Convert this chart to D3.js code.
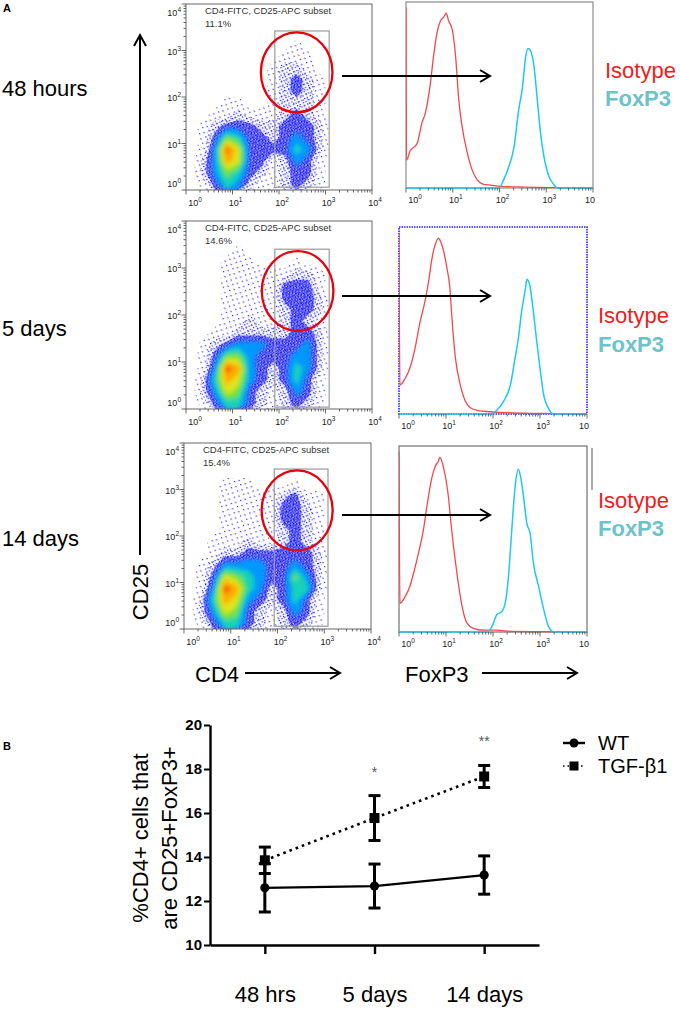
<!DOCTYPE html>
<html><head><meta charset="utf-8">
<script src="https://cdn.jsdelivr.net/npm/d3@7"></script>
<style>body{margin:0;background:#fff}svg{display:block}</style>
</head><body>
<svg id="c" width="680" height="1009"></svg>
<script>
// ---------------- DATA ----------------
const timepoints = ["48 hours", "5 days", "14 days"];
const subsetPct = ["11.1%", "14.6%", "15.4%"];
// density level (0-9) per 1/4-decade cell, CD4 log x (columns 0..4), CD25 log y (rows top=4 .. bottom=0)
const density48h = [
  "0000000000000000","0000000000000000","0000000000000000","0000000001000000",
  "0000000011100000","0000000122100000","0000000123210000","0000000123210000",
  "0001100122210000","0011211123210000","0123332233320000","0136533234320000",
  "0149733335420000","0248733124310000","0246532123310000","0135421123210000"];
const density5d = [
  "0000000000000000","0000000000000000","0000100000000000","0001110001000000",
  "0001111112210000","0001111133310000","0001111133320000","0001111123320000",
  "0001121123210000","0011222223320000","0123444333420000","0136643334420000",
  "0149843235420000","0258743235310000","0247632124310000","0135532123210000"];
const density14d = [
  "0000000000000000","0000000000000000","0000000000000000","0001110001000000",
  "0001111123110000","0001111133210000","0001111133210000","0001111123210000",
  "0011121123210000","0012233333320000","0124444334320000","0137654336420000",
  "0149854235520000","0258743235310000","0247632124310000","0135532123210000"];
// gate rectangle [x0,x1,y0,y1] and circle [cx,cy,rx,ry] in log10 units
const gates = [[1.91,3.08,0.06,3.42],[1.91,3.08,0.04,3.40],[1.93,3.08,0.06,3.44]];
const circles = [[2.38,2.53,0.77,0.86],[2.40,2.51,0.77,0.85],[2.42,2.55,0.76,0.86]];
// histograms: [log10 FoxP3, % of max]
const isotype48h = [[0,97],[0.01,15],[0.09,20],[0.24,24],[0.34,35],[0.41,40],[0.52,56],[0.59,71],[0.66,83],[0.74,90],[0.81,92],[0.86,94],[0.91,90],[0.99,85],[1.06,71],[1.13,47],[1.2,33],[1.31,19],[1.41,10],[1.52,4.5],[1.66,2],[1.81,1.6],[2.02,0.9],[2.52,0.5],[3.24,0.2],[4,0]];
const foxp348h = [[0,0],[1.99,0],[2.09,4.5],[2.2,11.6],[2.31,22],[2.41,42],[2.49,54],[2.56,70.5],[2.61,75],[2.66,74],[2.74,65],[2.81,47],[2.88,29],[2.95,17],[3.06,6],[3.16,2],[3.24,0],[4,0]];
const isotype5d = [[0,97],[0.02,15.5],[0.13,19],[0.23,24.5],[0.34,35],[0.45,49.5],[0.55,60],[0.63,71],[0.7,83],[0.77,90.5],[0.84,94],[0.87,93],[0.94,88],[1.02,78],[1.08,68],[1.13,50],[1.2,30],[1.3,16],[1.41,7],[1.51,3.5],[1.66,2],[1.94,1.2],[2.3,0.7],[3.0,0.3],[4,0]];
const foxp35d = [[0,0],[1.94,0],[2.08,2],[2.22,6.6],[2.37,15.5],[2.47,30],[2.54,40.5],[2.61,55],[2.69,67],[2.72,72],[2.78,69],[2.85,56.6],[2.93,38.8],[3.0,24.5],[3.08,10],[3.18,3],[3.29,0],[4,0]];
const isotype14d = [[0,97],[0.02,15.5],[0.13,19],[0.23,24.5],[0.31,31.6],[0.41,42],[0.52,55],[0.59,67],[0.7,83],[0.77,89],[0.84,92],[0.87,94],[0.94,89],[1.05,73],[1.12,55],[1.23,32],[1.34,14],[1.44,5],[1.58,2],[1.8,1],[2.08,1],[2.3,0.5],[3.0,0.2],[4,0]];
const foxp314d = [[0,0],[1.87,0],[1.98,3],[2.08,9.3],[2.19,11],[2.26,15.5],[2.33,30],[2.4,55],[2.47,78],[2.54,87.5],[2.59,83],[2.65,72.7],[2.72,58.4],[2.79,53],[2.86,37],[2.97,24.5],[3.08,12],[3.18,3],[3.29,0],[4,0]];
// panel B
const categories = ["48 hrs", "5 days", "14 days"];
const wtMean = [12.6, 12.68, 13.18];
const wtSem = [1.1, 1.0, 0.87];
const tgfMean = [13.85, 15.77, 17.66];
const tgfSem = [0.6, 1.02, 0.5];
const significance = ["", "*", "**"];
const yTicks = [10, 12, 14, 16, 18, 20];
const seriesNames = ["WT", "TGF-\u03b21"];

// ---------------- DRAW ----------------
const FONT = "Arial, 'Liberation Sans', Helvetica, sans-serif";
const svg = d3.select("#c").attr("font-family", FONT);
const defs = svg.append("defs");
function speckle(id, size, dots, color, rot){
  const p = defs.append("pattern").attr("id", id).attr("width", size).attr("height", size)
    .attr("patternUnits", "userSpaceOnUse").attr("patternTransform", `rotate(${rot})`);
  dots.forEach(d => p.append("rect").attr("x", d[0]).attr("y", d[1]).attr("width", d[2]).attr("height", d[2]).attr("fill", color));
}
speckle("sp1", 7, [[0,0,1.2],[3.5,4,1.2]], "#1a1aff", 27);
speckle("sp2", 4.5, [[0,0,1.2],[2.2,2.6,1.2]], "#1414ff", 17);
speckle("sp3", 3, [[0,0,1.4],[1.5,1.5,1.4],[0,1.6,0.9]], "#0c0cf0", 8);
defs.append("filter").attr("id","blur").attr("x","-10%").attr("y","-10%").attr("width","120%").attr("height","120%")
  .append("feGaussianBlur").attr("stdDeviation",2.2);

const levelFill = ["none","url(#sp1)","url(#sp2)","url(#sp3)","#0098ff","#18d2b8","#72e23a","#e0e41a","#ffac00","#ff3a00"];

const rows = [
  {dot:{x:186,y:4,w:186,h:186}, hist:{x:406,y:2,w:187,h:186,frame:"#777",dash:null}, ay:76, legX:605, isoY:78, foxY:106, labY:96,
   grid:density48h, iso:isotype48h, fox:foxp348h},
  {dot:{x:186,y:221,w:186,h:188}, hist:{x:399,y:227,w:188,h:187,frame:"#2222ff",dash:"1.5,1"}, ay:296, legX:598, isoY:323, foxY:352, labY:336,
   grid:density5d, iso:isotype5d, fox:foxp35d},
  {dot:{x:184,y:443,w:187,h:186}, hist:{x:399,y:446,w:188,h:186,frame:"#555",dash:null}, ay:515, legX:598, isoY:508, foxY:536, labY:546,
   grid:density14d, iso:isotype14d, fox:foxp314d}
];

const logTicks = d3.scaleLog().domain([1, 1e4]).ticks();
function isMajor(t){ const L = Math.log10(t); return Math.abs(L - Math.round(L)) < 1e-9; }
function tenPow(text, e, small){
  text.text("10");
  if (e !== null) text.append("tspan").attr("dy", -4).attr("font-size", small).text(e);
}

rows.forEach((row, k) => {
  const g = svg.append("g");
  // ---- dot plot
  const r = row.dot;
  const xs = d3.scaleLinear().domain([0,4]).range([r.x, r.x + r.w]);
  const ys = d3.scaleLinear().domain([0,4]).range([r.y + r.h, r.y]);
  const cid = "clipd" + k;
  defs.append("clipPath").attr("id", cid).append("rect").attr("x", r.x).attr("y", r.y).attr("width", r.w).attr("height", r.h);
  const n = row.grid.length;
  const values = row.grid.flatMap(s => s.split("").map(Number));
  const cont = d3.contours().size([n, n]).thresholds(d3.range(0.5, 9.5, 1))(values);
  const proj = d3.geoTransform({point(x, y){ this.stream.point(xs(x * 4 / n), ys(4 - y * 4 / n)); }});
  const path = d3.geoPath(proj);
  const cg = g.append("g").attr("clip-path", `url(#${cid})`);
  // soft blue underlay for the dense-blue band
  cg.append("path").datum(cont[2]).attr("d", path).attr("fill", "#4a4aff").attr("opacity", 0.3).attr("filter", "url(#blur)");
  cg.append("g").selectAll("path").data(cont.slice(0, 3)).join("path")
    .attr("d", path).attr("fill", (d, i) => levelFill[i + 1]);
  cg.append("g").attr("filter", "url(#blur)").selectAll("path").data(cont.slice(3)).join("path")
    .attr("d", path).attr("fill", (d, i) => levelFill[i + 4]);
  // frame
  g.append("rect").attr("x", r.x).attr("y", r.y).attr("width", r.w).attr("height", r.h)
    .attr("fill", "none").attr("stroke", "#666").attr("stroke-width", 1);
  // ticks
  logTicks.forEach(t => {
    const L = Math.log10(t), len = isMajor(t) ? 4.5 : 2.5;
    g.append("line").attr("x1", xs(L)).attr("x2", xs(L)).attr("y1", r.y + r.h).attr("y2", r.y + r.h + len).attr("stroke", "#444").attr("stroke-width", 0.8);
    g.append("line").attr("x1", r.x).attr("x2", r.x - len).attr("y1", ys(L)).attr("y2", ys(L)).attr("stroke", "#444").attr("stroke-width", 0.8);
  });
  d3.range(0, 5).forEach(d => {
    g.append("text").attr("x", xs(d) + (d === 0 ? 9 : 3)).attr("y", r.y + r.h + 16).attr("text-anchor", "middle")
      .attr("font-size", 9).attr("fill", "#222").call(tenPow, String(d), 6.5);
    const by = d === 0 ? ys(0) - 3 : (d === 4 ? ys(4) + 12 : ys(d) + 4);
    g.append("text").attr("x", r.x - 5).attr("y", by).attr("text-anchor", "end")
      .attr("font-size", 9).attr("fill", "#222").call(tenPow, String(d), 6.5);
  });
  g.append("text").attr("x", r.x + 19).attr("y", r.y + 10).attr("font-size", 9.5).attr("fill", "#333").text("CD4-FITC, CD25-APC subset");
  g.append("text").attr("x", r.x + 19).attr("y", r.y + 23).attr("font-size", 9.5).attr("fill", "#333").text(subsetPct[k]);
  // gate & circle
  const gt = gates[k];
  g.append("rect").attr("x", xs(gt[0])).attr("y", ys(gt[3])).attr("width", xs(gt[1]) - xs(gt[0])).attr("height", ys(gt[2]) - ys(gt[3]))
    .attr("fill", "none").attr("stroke", "#9a9a9a").attr("stroke-width", 1.2);
  const c = circles[k];
  g.append("ellipse").attr("cx", xs(c[0])).attr("cy", ys(c[1])).attr("rx", xs(c[2]) - xs(0)).attr("ry", ys(0) - ys(c[3]))
    .attr("fill", "none").attr("stroke", "#e8000b").attr("stroke-width", 2.3);

  // ---- histogram
  const h = row.hist;
  const hx = d3.scaleLinear().domain([0,4]).range([h.x, h.x + h.w]);
  const hy = d3.scaleLinear().domain([0,100]).range([h.y + h.h, h.y]);
  const hid = "cliph" + k;
  defs.append("clipPath").attr("id", hid).append("rect").attr("x", h.x).attr("y", h.y - 1).attr("width", h.w).attr("height", h.h + 2);
  const fr = g.append("rect").attr("x", h.x).attr("y", h.y).attr("width", h.w).attr("height", h.h)
    .attr("fill", "none").attr("stroke", h.frame).attr("stroke-width", h.dash ? 1.6 : 1);
  if (h.dash) fr.attr("stroke-dasharray", h.dash);
  const line = d3.line().x(d => hx(d[0])).y(d => hy(d[1])).curve(d3.curveMonotoneX);
  const hg = g.append("g").attr("clip-path", `url(#${hid})`);
  hg.append("path").attr("d", line(row.iso)).attr("fill", "none").attr("stroke", "#f2484c").attr("stroke-width", 1.3);
  hg.append("path").attr("d", line(row.fox)).attr("fill", "none").attr("stroke", "#1ec8f0").attr("stroke-width", 1.5);
  logTicks.forEach(t => {
    const L = Math.log10(t), len = isMajor(t) ? 4.5 : 2.5;
    g.append("line").attr("x1", hx(L)).attr("x2", hx(L)).attr("y1", h.y + h.h).attr("y2", h.y + h.h + len).attr("stroke", "#444").attr("stroke-width", 0.8);
  });
  d3.range(0, 5).forEach(d => {
    g.append("text").attr("x", hx(d) + (d === 0 ? 9 : (d === 4 ? -3 : 3))).attr("y", h.y + h.h + 15).attr("text-anchor", "middle")
      .attr("font-size", 9).attr("fill", "#222").call(tenPow, d === 4 ? null : String(d), 6.5);
  });
  if (k === 2) g.append("line").attr("x1", 592).attr("x2", 592).attr("y1", 448).attr("y2", 490).attr("stroke", "#555").attr("stroke-width", 1);

  // ---- arrow between
  g.append("line").attr("x1", 342).attr("x2", 490).attr("y1", row.ay).attr("y2", row.ay).attr("stroke", "#000").attr("stroke-width", 2);
  g.append("path").attr("d", `M${480},${row.ay - 6}L${490},${row.ay}L${480},${row.ay + 6}`).attr("fill", "none").attr("stroke", "#000").attr("stroke-width", 2);
  // ---- legend
  g.append("text").attr("x", row.legX).attr("y", row.isoY).attr("font-size", 22).attr("fill", "#ee1c1c").text("Isotype");
  g.append("text").attr("x", row.legX).attr("y", row.foxY).attr("font-size", 22).attr("font-weight", "bold").attr("fill", "#6cc3c9").text("FoxP3");
  // ---- row label
  g.append("text").attr("x", 2).attr("y", row.labY).attr("font-size", 22).attr("fill", "#000").text(timepoints[k]);
});

// panel labels & axis names
svg.append("text").attr("x", 3).attr("y", 12).attr("font-size", 11).attr("font-weight", "bold").text("A");
svg.append("text").attr("x", 3).attr("y", 750).attr("font-size", 11).attr("font-weight", "bold").text("B");
svg.append("line").attr("x1", 140).attr("x2", 140).attr("y1", 555).attr("y2", 35).attr("stroke", "#000").attr("stroke-width", 2);
svg.append("path").attr("d", "M134,46L140,35L146,46").attr("fill", "none").attr("stroke", "#000").attr("stroke-width", 2);
svg.append("text").attr("transform", "translate(148,592) rotate(-90)").attr("text-anchor", "middle").attr("font-size", 22).text("CD25");
svg.append("text").attr("x", 195).attr("y", 682).attr("font-size", 22).text("CD4");
svg.append("line").attr("x1", 245).attr("x2", 339).attr("y1", 673).attr("y2", 673).attr("stroke", "#000").attr("stroke-width", 2);
svg.append("path").attr("d", "M330,667L340,673L330,679").attr("fill", "none").attr("stroke", "#000").attr("stroke-width", 2);
svg.append("text").attr("x", 405).attr("y", 682).attr("font-size", 22).text("FoxP3");
svg.append("line").attr("x1", 482).attr("x2", 576).attr("y1", 673).attr("y2", 673).attr("stroke", "#000").attr("stroke-width", 2);
svg.append("path").attr("d", "M567,667L577,673L567,679").attr("fill", "none").attr("stroke", "#000").attr("stroke-width", 2);

// ---------------- PANEL B ----------------
const bx = d3.scalePoint().domain(categories).range([210, 539]).padding(0.5);
const byS = d3.scaleLinear().domain([10, 20]).range([945, 725]);
const gB = svg.append("g");
const yAx = gB.append("g").attr("transform", "translate(210,0)")
  .call(d3.axisLeft(byS).tickValues(yTicks).tickSize(6).tickSizeOuter(0).tickPadding(2));
yAx.select(".domain").attr("stroke", "#000").attr("stroke-width", 2.4);
yAx.selectAll(".tick line").attr("stroke", "#000").attr("stroke-width", 2);
yAx.selectAll("text").attr("font-size", 15).attr("font-weight", "bold").attr("font-family", FONT).attr("fill", "#000");
const xAx = gB.append("g").attr("transform", "translate(0,945)")
  .call(d3.axisBottom(bx).tickSize(9).tickSizeOuter(0));
xAx.select(".domain").attr("stroke", "#000").attr("stroke-width", 2.6);
xAx.selectAll(".tick line").attr("stroke", "#000").attr("stroke-width", 2.4);
xAx.selectAll("text").attr("y", 57).attr("dy", null).attr("font-size", 22).attr("font-family", FONT).attr("fill", "#000");

gB.append("text").attr("transform", "translate(148,838) rotate(-90)").attr("text-anchor", "middle").attr("font-size", 22).text("%CD4+ cells that");
gB.append("text").attr("transform", "translate(177,838) rotate(-90)").attr("text-anchor", "middle").attr("font-size", 22).text("are CD25+FoxP3+");

const lineB = d3.line().x((d, i) => bx(categories[i])).y(d => byS(d));
gB.append("path").attr("d", lineB(tgfMean)).attr("fill", "none").attr("stroke", "#000").attr("stroke-width", 2.6).attr("stroke-dasharray", "2.6,4");
gB.append("path").attr("d", lineB(wtMean)).attr("fill", "none").attr("stroke", "#000").attr("stroke-width", 2.2);
function errBars(means, sems){
  means.forEach((m, i) => {
    const x = bx(categories[i]);
    const lo = byS(m - sems[i]), hi = byS(m + sems[i]);
    gB.append("line").attr("x1", x).attr("x2", x).attr("y1", lo).attr("y2", hi).attr("stroke", "#000").attr("stroke-width", 3);
    [lo, hi].forEach(yy => gB.append("line").attr("x1", x - 6).attr("x2", x + 6).attr("y1", yy).attr("y2", yy).attr("stroke", "#000").attr("stroke-width", 3));
  });
}
errBars(wtMean, wtSem);
errBars(tgfMean, tgfSem);
gB.selectAll("circle.wt").data(wtMean).join("circle").attr("class", "wt")
  .attr("cx", (d, i) => bx(categories[i])).attr("cy", d => byS(d)).attr("r", 4.6).attr("fill", "#000");
gB.selectAll("rect.tgf").data(tgfMean).join("rect").attr("class", "tgf")
  .attr("x", (d, i) => bx(categories[i]) - 5).attr("y", d => byS(d) - 5).attr("width", 10).attr("height", 10).attr("fill", "#000");
significance.forEach((s, i) => {
  if (!s) return;
  gB.append("text").attr("x", bx(categories[i])).attr("y", byS(tgfMean[i] + tgfSem[i]) - 19)
    .attr("text-anchor", "middle").attr("font-size", 14).attr("fill", "#555").text(s);
});
// legend
gB.append("line").attr("x1", 563).attr("x2", 585).attr("y1", 743).attr("y2", 743).attr("stroke", "#000").attr("stroke-width", 2.4);
gB.append("circle").attr("cx", 574).attr("cy", 743).attr("r", 4.5).attr("fill", "#000");
gB.append("line").attr("x1", 563).attr("x2", 585).attr("y1", 766).attr("y2", 766).attr("stroke", "#000").attr("stroke-width", 1.5).attr("stroke-dasharray", "1.5,3");
gB.append("rect").attr("x", 569.5).attr("y", 761.5).attr("width", 9).attr("height", 9).attr("fill", "#000");
gB.append("text").attr("x", 598).attr("y", 750).attr("font-size", 20).text(seriesNames[0]);
gB.append("text").attr("x", 598).attr("y", 773).attr("font-size", 20).text(seriesNames[1]);
</script>
</body></html>
